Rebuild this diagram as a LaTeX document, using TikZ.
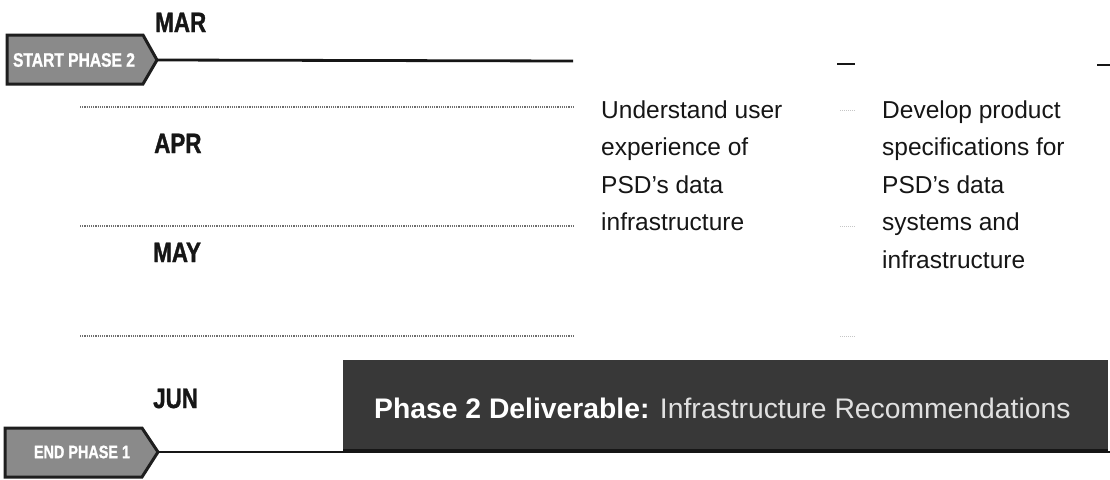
\documentclass[tikz,border=0pt]{standalone}
\usepackage{fontspec}
\setmainfont{Liberation Sans}
\newfontfamily\condfont{Liberation Sans Bold}[FakeStretch=0.8,FakeBold=1.2]
\definecolor{taggray}{HTML}{8A8A8A}
\definecolor{tagedge}{HTML}{1E1E1E}
\definecolor{boxdark}{HTML}{383838}
\definecolor{rulegray}{HTML}{6E6E6E}
\definecolor{inkblack}{HTML}{161616}
\tikzset{
  month/.style={anchor=base west, inner sep=0pt, text=inkblack,
    font=\condfont\fontsize{28}{30}\selectfont},
  taglabel/.style={inner sep=0pt, text=white},
  tagbox/.style={fill=taggray, draw=tagedge, line width=3pt, line join=miter},
  mainline/.style={draw=inkblack, line width=2.8pt},
  monthrule/.style={draw=rulegray, line width=1.2pt, densely dotted},
  faintmark/.style={draw=gray!45, line width=1pt, densely dotted},
  tasktext/.style={anchor=north west, inner sep=0pt, align=left, text=inkblack,
    font=\fontsize{24.5}{37.5}\selectfont},
}
\begin{document}
\begin{tikzpicture}[x=1pt,y=-1pt]
\useasboundingbox (0,0) rectangle (1110,479);
\fill[white] (0,0) rectangle (1110,479);

% month labels
\node[month] (mar) at (155,32) {MAR};
\node[month] (apr) at (154,153) {APR};
\node[month] (may) at (153,262) {MAY};
\node[month] (jun) at (153,408) {JUN};

% dotted month separators
\coordinate (r1a) at (80,107);  \coordinate (r1b) at (573,107);
\coordinate (r2a) at (80,226);  \coordinate (r2b) at (573,226);
\coordinate (r3a) at (80,336);  \coordinate (r3b) at (573,336);
\draw[monthrule] (r1a) -- (r1b);
\draw[monthrule] (r2a) -- (r2b);
\draw[monthrule] (r3a) -- (r3b);

% small marks in the task columns
\coordinate (m1a) at (840,110); \coordinate (m1b) at (856,110);
\coordinate (m2a) at (840,226); \coordinate (m2b) at (856,226);
\coordinate (m3a) at (840,336); \coordinate (m3b) at (856,336);
\draw[faintmark] (m1a) -- (m1b);
\draw[faintmark] (m2a) -- (m2b);
\draw[faintmark] (m3a) -- (m3b);

% phase start tag and its line
\filldraw[tagbox] (7,35) -- (143,35) -- (157,60) -- (143,84) -- (7,84) -- cycle;
\node[taglabel, font=\condfont\fontsize{19.5}{20}\selectfont] (startLbl) at (74,60) {START PHASE 2};
\coordinate (startTip) at (157,60);
\coordinate (startEnd) at (573,61);
\draw[mainline] (startTip) -- (startEnd);
\coordinate (dashAa) at (837,64);  \coordinate (dashAb) at (855,64);
\coordinate (dashBa) at (1097,65); \coordinate (dashBb) at (1110,65);
\draw[mainline] (dashAa) -- (dashAb);
\draw[mainline] (dashBa) -- (dashBb);

% task descriptions
\node[tasktext] (task1) at (601,100.5) {Understand user\\experience of\\PSD's data\\infrastructure};
\node[tasktext] (task2) at (882,100.5) {Develop product\\specifications for\\PSD's data\\systems and\\infrastructure};

% phase end tag and bottom line
\coordinate (endTip) at (158,452);
\coordinate (botEnd) at (1110,452);
\draw[mainline] (endTip) -- (botEnd);

% deliverable banner
\node[fill=boxdark, minimum width=765pt, minimum height=90pt, inner sep=0pt,
      anchor=north west] (deliv) at (343,360) {};
\draw[mainline] (deliv.south west) -- (deliv.south east);
\node[anchor=base west, inner sep=0pt, text=white,
      font=\fontsize{28.3}{30}\selectfont] (delivTxt) at (374,418)
  {\textbf{Phase 2 Deliverable:} {\color{white!88!black}Infrastructure Recommendations}};

\filldraw[tagbox] (5,428) -- (142,428) -- (158,452) -- (142,477) -- (5,477) -- cycle;
\node[taglabel, font=\condfont\fontsize{18}{20}\selectfont] (endLbl) at (82,452) {END PHASE 1};
\end{tikzpicture}
\end{document}
